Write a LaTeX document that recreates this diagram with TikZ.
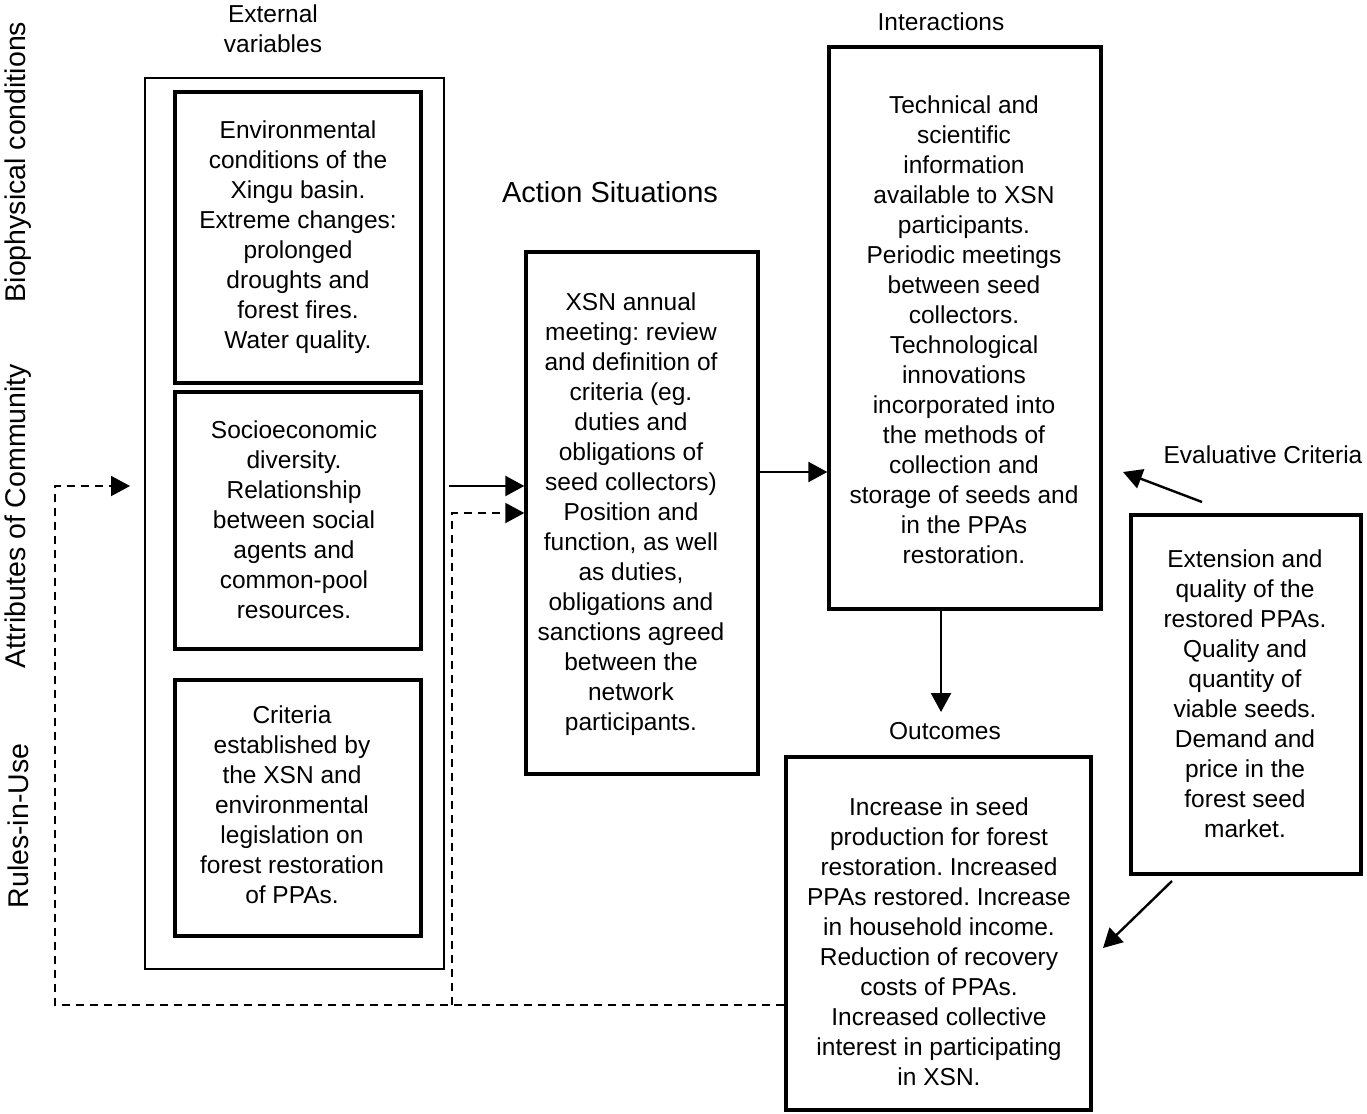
\documentclass[tikz,border=0pt]{standalone}
\usepackage{fontspec}
\setmainfont{Liberation Sans}
\frenchspacing
\usetikzlibrary{arrows.meta}
\tikzset{
  box/.style={draw, inner sep=0pt},
  outerbox/.style={box, line width=1.8pt},
  thickbox/.style={box, line width=3.8pt},
  midbox/.style={box, line width=3.4pt},
  txt/.style={align=center, inner sep=0pt, font=\fontsize{24.5}{30}\selectfont\frenchspacing},
  bigtxt/.style={align=center, inner sep=0pt, font=\fontsize{29}{34}\selectfont},
  sidetxt/.style={inner sep=0pt, rotate=90, font=\fontsize{28.5}{34}\selectfont},
  arr/.style={line width=2.4pt, -{Triangle[length=19pt,width=20pt]}},
  darr/.style={line width=2pt, dash pattern=on 8pt off 6pt, -{Triangle[length=19pt,width=20pt]}},
}
\begin{document}
\begin{tikzpicture}[x=1pt,y=-1pt]
\useasboundingbox (0,0) rectangle (1367,1113);
% side labels
\node[sidetxt] (bio) at (18,162) {Biophysical conditions};
\node[sidetxt] (attr) at (18,516) {Attributes of Community};
\node[sidetxt] (rules) at (18,826) {Rules-in-Use};
% headings
\node[txt] (extlab) at (273,29) {External\\variables};
\node[bigtxt] (actlab) at (610,192) {Action Situations};
\node[txt] (intlab) at (941,22) {Interactions};
\node[txt] (evallab) at (1263,455) {Evaluative Criteria};
\node[txt] (outlab) at (945,731) {Outcomes};
% boxes
\node[outerbox, minimum width=299pt, minimum height=891pt] (outer) at (294.5,523.5) {};
\node[thickbox, minimum width=246pt, minimum height=291pt] (b1) at (298,237.5) {};
\node[thickbox, minimum width=246pt, minimum height=257pt] (b2) at (298,520.5) {};
\node[thickbox, minimum width=246pt, minimum height=256pt] (b3) at (298,808) {};
\node[midbox, minimum width=232pt, minimum height=522pt] (act) at (642,513) {};
\node[midbox, minimum width=272pt, minimum height=562pt] (inter) at (965,328) {};
\node[midbox, minimum width=305pt, minimum height=353pt] (outc) at (938.5,933.5) {};
\node[midbox, minimum width=230pt, minimum height=359pt] (eval) at (1246,694.5) {};
% box texts
\node[txt] (t1) at (298,237) {Environmental\\conditions of the\\Xingu basin.\\Extreme changes:\\prolonged\\droughts and\\forest fires.\\Water quality.};
\node[txt] (t2) at (294,520) {Socioeconomic\\diversity.\\Relationship\\between social\\agents and\\common-pool\\resources.};
\node[txt] (t3) at (292,805) {Criteria\\established by\\the XSN and\\environmental\\legislation on\\forest restoration\\of PPAs.};
\node[txt] (tact) at (631,514) {XSN annual\\meeting: review\\and definition of\\criteria (eg.\\duties and\\obligations of\\seed collectors)\\Position and\\function, as well\\as duties,\\obligations and\\sanctions agreed\\between the\\network\\participants.};
\node[txt] (tint) at (964,330) {Technical and\\scientific\\information\\available to XSN\\participants.\\Periodic meetings\\between seed\\collectors.\\Technological\\innovations\\incorporated into\\the methods of\\collection and\\storage of seeds and\\in the PPAs\\restoration.};
\node[txt] (tout) at (939,942) {Increase in seed\\production for forest\\restoration. Increased\\PPAs restored. Increase\\in household income.\\Reduction of recovery\\costs of PPAs.\\Increased collective\\interest in participating\\in XSN.};
\node[txt] (teval) at (1245,694) {Extension and\\quality of the\\restored PPAs.\\Quality and\\quantity of\\viable seeds.\\Demand and\\price in the\\forest seed\\market.};
% helper coordinates
\coordinate (ya) at (0,486);
\coordinate (yb) at (0,513);
\coordinate (yc) at (0,472);
\coordinate (yd) at (0,1005);
\coordinate (fbL) at (55,1005);
\coordinate (fbLt) at (55,486);
\coordinate (fbEnd) at (130,486);
\coordinate (fbM) at (452,1005);
\coordinate (fbMt) at (452,513);
\coordinate (outTip) at (941,712);
\coordinate (evS) at (1202,502);
\coordinate (evE) at (1123,472);
\coordinate (ev2S) at (1172,881);
\coordinate (ev2E) at (1103,948);
% connectors
\draw[arr] ([xshift=4pt]outer.east |- ya) -- (act.west |- ya);
\draw[arr] (act.east |- yc) -- (inter.west |- yc);
\draw[arr] (inter.south -| outTip) -- (outTip);
\draw[arr] (evS) -- (evE);
\draw[arr] (ev2S) -- (ev2E);
\draw[darr] (outc.west |- yd) -- (fbL) -- (fbLt) -- (fbEnd);
\draw[darr] (fbM) -- (fbMt) -- (act.west |- yb);
\end{tikzpicture}
\end{document}
